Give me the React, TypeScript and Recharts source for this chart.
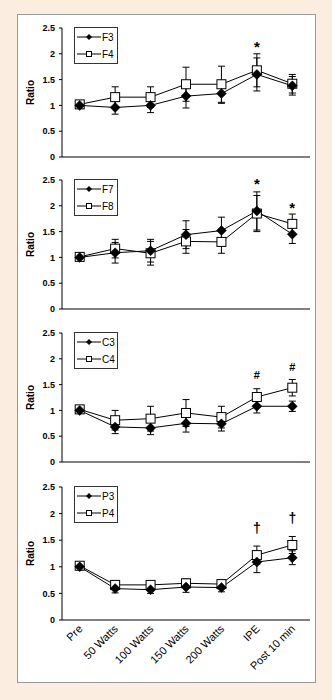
import React from 'react';
import { LineChart, Line, XAxis, YAxis, ErrorBar, ReferenceDot, Legend } from 'recharts';

const categories = ['Pre', '50 Watts', '100 Watts', '150 Watts', '200 Watts', 'IPE', 'Post 10 min'];
const yTicks = [0, 0.5, 1, 1.5, 2, 2.5];

// Panel 1
const f3 = [1.0, 0.96, 1.0, 1.18, 1.23, 1.6, 1.38];
const f3Err = [0.05, 0.13, 0.14, 0.23, 0.19, 0.32, 0.18];
const f4 = [1.02, 1.16, 1.16, 1.41, 1.41, 1.68, 1.42];
const f4Err = [0.03, 0.2, 0.2, 0.33, 0.35, 0.32, 0.18];
const marks1 = [{ cat: 'IPE', y: 2.21, text: '*' }];

// Panel 2
const f7 = [1.0, 1.09, 1.13, 1.44, 1.52, 1.9, 1.45];
const f7Err = [0.04, 0.2, 0.22, 0.27, 0.26, 0.37, 0.18];
const f8 = [1.01, 1.17, 1.08, 1.31, 1.3, 1.85, 1.65];
const f8Err = [0.04, 0.18, 0.23, 0.23, 0.22, 0.35, 0.19];
const marks2 = [
  { cat: 'IPE', y: 2.5, text: '*' },
  { cat: 'Post 10 min', y: 2.03, text: '*' },
];

// Panel 3
const c3 = [1.0, 0.68, 0.66, 0.75, 0.74, 1.08, 1.08];
const c3Err = [0.04, 0.13, 0.13, 0.17, 0.14, 0.13, 0.1];
const c4 = [1.02, 0.81, 0.84, 0.95, 0.87, 1.26, 1.44];
const c4Err = [0.03, 0.19, 0.24, 0.26, 0.21, 0.16, 0.16];
const marks3 = [
  { cat: 'IPE', y: 1.68, text: '#' },
  { cat: 'Post 10 min', y: 1.85, text: '#' },
];

// Panel 4
const p3 = [1.0, 0.59, 0.57, 0.62, 0.61, 1.09, 1.17];
const p3Err = [0.03, 0.08, 0.07, 0.1, 0.08, 0.2, 0.13];
const p4 = [1.02, 0.66, 0.66, 0.69, 0.675, 1.22, 1.41];
const p4Err = [0.03, 0.05, 0.05, 0.08, 0.07, 0.17, 0.16];
const marks4 = [
  { cat: 'IPE', y: 1.71, text: '\u2020' },
  { cat: 'Post 10 min', y: 1.9, text: '\u2020' },
];

const FONT = '"Liberation Sans", Arial, sans-serif';

const glyphStyle: Record<string, { size: number; off: number }> = {
  '*': { size: 15, off: 0.58 },
  '#': { size: 11, off: 0.36 },
  '\u2020': { size: 14, off: 0.27 },
};

const Diamond = (props: any) => {
  const { cx, cy } = props;
  if (cx == null || cy == null) return null;
  const r = 5;
  return (
    <path
      d={`M${cx},${cy - r} L${cx + r},${cy} L${cx},${cy + r} L${cx - r},${cy} Z`}
      fill="#000"
      stroke="#000"
      strokeWidth={0.5}
    />
  );
};

const Square = (props: any) => {
  const { cx, cy } = props;
  if (cx == null || cy == null) return null;
  const s = 9;
  return <rect x={cx - s / 2} y={cy - s / 2} width={s} height={s} fill="#fff" stroke="#000" strokeWidth={1} />;
};

const LegendBox = ({ names }: { names: string[] }) => (
  <svg width={44} height={37} style={{ display: 'block' }}>
    <rect x={0.5} y={0.5} width={43} height={36} fill="#fff" stroke="#333" strokeWidth={1} />
    <line x1={3} x2={27} y1={10} y2={10} stroke="#000" strokeWidth={1} />
    <path d="M15,7 L18,10 L15,13 L12,10 Z" fill="#000" />
    <text x={28} y={13.5} fontSize={10} fontFamily={FONT} fill="#000">
      {names[0]}
    </text>
    <line x1={3} x2={27} y1={27} y2={27} stroke="#000" strokeWidth={1} />
    <rect x={12.5} y={24.5} width={5} height={5} fill="#fff" stroke="#000" strokeWidth={1} />
    <text x={28} y={30.5} fontSize={10} fontFamily={FONT} fill="#000">
      {names[1]}
    </text>
  </svg>
);

type PanelProps = {
  names: string[];
  a: number[];
  aErr: number[];
  b: number[];
  bErr: number[];
  marks: { cat: string; y: number; text: string }[];
  top: number;
  plotH: number;
  bottomLabels?: boolean;
};

const MT = 6;

const Panel = ({ names, a, aErr, b, bErr, marks, top, plotH, bottomLabels }: PanelProps) => {
  const rows = categories.map((c, i) => ({ cat: c, a: a[i], aErr: aErr[i], b: b[i], bErr: bErr[i] }));
  const xH = bottomLabels ? 62 : 2;
  const mb = bottomLabels ? 0 : 8;
  const h = MT + plotH + xH + mb;
  const xId = bottomLabels ? 'c' : 0;
  return (
    <div style={{ position: 'absolute', left: 0, top: top - MT }}>
      <LineChart width={332} height={h} data={rows} margin={{ top: MT, right: 22, left: 0, bottom: mb }}>
        {bottomLabels && (
          <XAxis
            xAxisId="t"
            type="number"
            domain={[0, 7]}
            ticks={[0, 1, 2, 3, 4, 5, 6, 7]}
            tick={false}
            tickSize={4}
            tickLine={{ stroke: '#000' }}
            axisLine={false}
            height={0}
            allowDataOverflow
          />
        )}
        {bottomLabels ? (
          <XAxis
            xAxisId="c"
            dataKey="cat"
            scale="band"
            height={60}
            interval={0}
            tickLine={false}
            tickSize={3}
            tickMargin={1}
            axisLine={{ stroke: '#000' }}
            angle={-45}
            textAnchor="end"
            tick={{ fontSize: 11, fill: '#000', fontFamily: FONT, dx: -2 }}
          />
        ) : (
          <XAxis dataKey="cat" scale="band" height={2} tick={false} tickLine={false} axisLine={{ stroke: '#000' }} />
        )}
        <YAxis
          width={62}
          domain={[0, 2.5]}
          ticks={yTicks}
          interval={0}
          tickSize={3}
          tickMargin={4}
          tickLine={{ stroke: '#000' }}
          axisLine={{ stroke: '#000' }}
          tick={{ fontSize: 9, fontWeight: 'bold', fill: '#000', fontFamily: FONT }}
          label={{ value: 'Ratio', angle: -90, position: 'center', fontSize: 10, fontWeight: 'bold', fill: '#000', fontFamily: FONT, dx: -1 }}
        />
        <Legend
          layout="vertical"
          align="center"
          verticalAlign="middle"
          wrapperStyle={{ left: 74, top: MT - 1, width: 44, height: 37 }}
          content={() => <LegendBox names={names} />}
        />
        <Line
          xAxisId={xId}
          dataKey="b"
          name={names[1]}
          stroke="#000"
          strokeWidth={1}
          isAnimationActive={false}
          dot={(p: any) => <Square key={`s${p.index}`} {...p} />}
          activeDot={false}
        >
          <ErrorBar dataKey="bErr" width={3.5} stroke="#000" strokeWidth={1} direction="y" />
        </Line>
        <Line
          xAxisId={xId}
          dataKey="a"
          name={names[0]}
          stroke="#000"
          strokeWidth={1}
          isAnimationActive={false}
          dot={(p: any) => <Diamond key={`d${p.index}`} {...p} />}
          activeDot={false}
        >
          <ErrorBar dataKey="aErr" width={3.5} stroke="#000" strokeWidth={1} direction="y" />
        </Line>
        {marks.map((m, i) => (
          <ReferenceDot
            key={i}
            xAxisId={xId}
            x={m.cat}
            y={m.y}
            r={0}
            fill="none"
            stroke="none"
            ifOverflow="visible"
            label={(lp: any) => {
              const vb = lp.viewBox || {};
              const g = glyphStyle[m.text];
              const cx = (vb.x ?? 0) + (vb.width ?? 0) / 2;
              const cy = (vb.y ?? 0) + (vb.height ?? 0) / 2;
              return (
                <text
                  x={cx}
                  y={cy + g.size * g.off}
                  textAnchor="middle"
                  fontSize={g.size}
                  fontWeight="bold"
                  fontFamily={FONT}
                  fill="#000"
                >
                  {m.text}
                </text>
              );
            }}
          />
        ))}
      </LineChart>
    </div>
  );
};

export default function App() {
  return (
    <div
      style={{
        position: 'absolute',
        left: 0,
        top: 0,
        width: 332,
        height: 700,
        background: '#fcede1',
        fontFamily: FONT,
        overflow: 'hidden',
      }}
    >
      <div
        style={{
          position: 'absolute',
          left: 17,
          top: 14,
          width: 297,
          height: 667,
          background: '#fff',
          border: '1px solid #9a9a9a',
        }}
      />
      <Panel names={['F3', 'F4']} a={f3} aErr={f3Err} b={f4} bErr={f4Err} marks={marks1} top={28} plotH={129} />
      <Panel names={['F7', 'F8']} a={f7} aErr={f7Err} b={f8} bErr={f8Err} marks={marks2} top={180} plotH={129} />
      <Panel names={['C3', 'C4']} a={c3} aErr={c3Err} b={c4} bErr={c4Err} marks={marks3} top={333} plotH={129} />
      <Panel names={['P3', 'P4']} a={p3} aErr={p3Err} b={p4} bErr={p4Err} marks={marks4} top={487} plotH={131} bottomLabels />
    </div>
  );
}
